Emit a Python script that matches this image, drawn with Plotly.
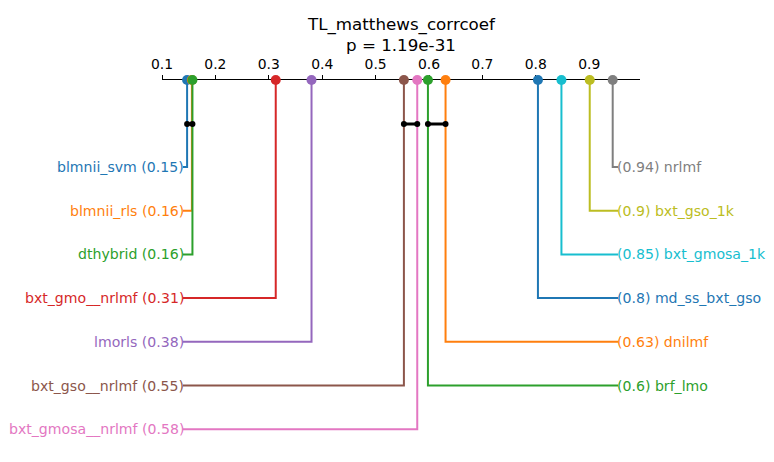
import plotly.graph_objects as go

# ---- data ----
names = ["blmnii_svm", "blmnii_rls", "dthybrid", "bxt_gmo__nrlmf", "lmorls",
         "bxt_gso__nrlmf", "bxt_gmosa__nrlmf", "brf_lmo", "dnilmf",
         "md_ss_bxt_gso", "bxt_gmosa_1k", "bxt_gso_1k", "nrlmf"]
ranks = [0.147, 0.156, 0.157, 0.313, 0.380, 0.553, 0.578, 0.598, 0.631,
         0.804, 0.848, 0.901, 0.944]
cd_groups = [["blmnii_svm", "dthybrid"],
             ["bxt_gso__nrlmf", "bxt_gmosa__nrlmf"],
             ["brf_lmo", "dnilmf"]]
tick_vals = [0.1, 0.2, 0.3, 0.4, 0.5, 0.6, 0.7, 0.8, 0.9]
tick_text = ["0.1", "0.2", "0.3", "0.4", "0.5", "0.6", "0.7", "0.8", "0.9"]
title_text = "TL_matthews_corrcoef"
p_text = "p = 1.19e-31"
n_left = 7

# ---- style / layout ----
tab10 = ["#1f77b4", "#ff7f0e", "#2ca02c", "#d62728", "#9467bd",
         "#8c564b", "#e377c2", "#7f7f7f", "#bcbd22", "#17becf"]
FONT = "DejaVu Sans"
LABEL_SIZE = 14.1
W, H = 774, 462
ML, MR, MT, MB = 162, 134, 80, 0
PX_PER_UNIT = 534.0
x0 = 0.1
x1 = x0 + (W - ML - MR) / PX_PER_UNIT
row0, row_step = 167.0, 43.7
cd_y = 124.0
axis_y = MT
left_lab_x = x0 + (183 - ML) / PX_PER_UNIT
right_lab_x = x0 + (618 - ML) / PX_PER_UNIT
plot_h = H - MT - MB


def paper_y(px):
    return 1 + (MT - px) / plot_h


fig = go.Figure()

# order: left side ascending, then right side descending
left_idx = list(range(n_left))
right_idx = list(range(len(names) - 1, n_left - 1, -1))
order = [(i, "L", k) for k, i in enumerate(left_idx)] + [(i, "R", k) for k, i in enumerate(right_idx)]

annotations = []
for c, (i, side, k) in enumerate(order):
    col = tab10[c % 10]
    r = ranks[i]
    ry = row0 + k * row_step
    lx = left_lab_x if side == "L" else right_lab_x
    fig.add_trace(go.Scatter(x=[r, r, lx], y=[axis_y, ry, ry], mode="lines",
                             line=dict(color=col, width=2), hoverinfo="skip",
                             showlegend=False, cliponaxis=False))
    if side == "L":
        txt = f"{names[i]} ({round(r, 2):g})"
        annotations.append(dict(x=lx, y=ry, xref="x", yref="y", text=txt,
                                showarrow=False, xanchor="right", yanchor="middle",
                                xshift=2, borderpad=0,
                                font=dict(family=FONT, size=LABEL_SIZE, color=col)))
    else:
        txt = f"({round(r, 2):g}) {names[i]}"
        annotations.append(dict(x=lx, y=ry, xref="x", yref="y", text=txt,
                                showarrow=False, xanchor="left", yanchor="middle",
                                xshift=-2, borderpad=0,
                                font=dict(family=FONT, size=LABEL_SIZE, color=col)))

# markers on top
for c, (i, side, k) in enumerate(order):
    col = tab10[c % 10]
    fig.add_trace(go.Scatter(x=[ranks[i]], y=[axis_y], mode="markers",
                             marker=dict(color=col, size=10, line=dict(width=0)),
                             showlegend=False, cliponaxis=False, hoverinfo="skip"))

# critical difference bars
for g in cd_groups:
    vals = [ranks[names.index(n)] for n in g]
    fig.add_trace(go.Scatter(x=[min(vals), max(vals)], y=[cd_y, cd_y], mode="lines+markers",
                             line=dict(color="black", width=3),
                             marker=dict(color="black", size=6),
                             showlegend=False, cliponaxis=False, hoverinfo="skip"))

annotations.append(dict(x=0.5, y=paper_y(25), xref="paper", yref="paper", text=title_text,
                        showarrow=False, xanchor="center", yanchor="middle",
                        font=dict(family=FONT, size=16.7, color="black")))
annotations.append(dict(x=0.5, y=paper_y(45), xref="paper", yref="paper", text=p_text,
                        showarrow=False, xanchor="center", yanchor="middle",
                        font=dict(family=FONT, size=16.7, color="black")))

fig.update_layout(
    width=W, height=H,
    margin=dict(l=ML, r=MR, t=MT, b=MB, pad=0),
    paper_bgcolor="white", plot_bgcolor="white",
    annotations=annotations,
    xaxis=dict(range=[x0, x1], side="top", showline=True, linecolor="black", linewidth=1,
               ticks="outside", ticklen=4, tickwidth=1, tickcolor="black",
               tickvals=tick_vals, ticktext=tick_text, showgrid=False, zeroline=False,
               layer="below traces",
               tickfont=dict(family=FONT, size=13.9, color="black"), fixedrange=True),
    yaxis=dict(range=[H, MT], visible=False, showgrid=False, zeroline=False, fixedrange=True),
)

fig.write_html("out.html")
